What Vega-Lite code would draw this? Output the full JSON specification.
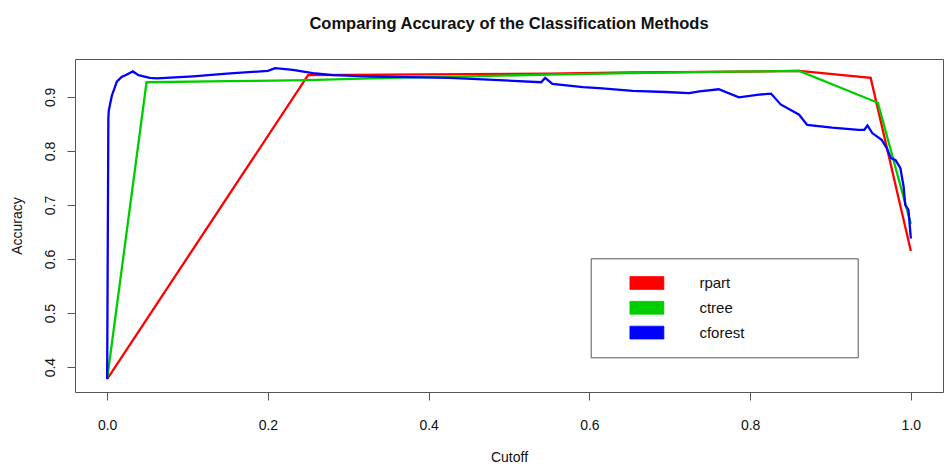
{
  "$schema": "https://vega.github.io/schema/vega-lite/v6.json",
  "width": 868,
  "height": 333,
  "autosize": {"type": "none"},
  "padding": {"left": 75, "top": 59, "right": 2, "bottom": 81},
  "background": "white",
  "title": {
    "text": "Comparing Accuracy of the Classification Methods",
    "font": "Liberation Sans",
    "fontSize": 16.5,
    "fontWeight": "bold",
    "color": "#111",
    "anchor": "middle",
    "baseline": "middle",
    "offset": 19
  },
  "config": {
    "view": {"stroke": "#555", "strokeWidth": 1},
    "font": "Liberation Sans"
  },
  "data": {
    "values": [
      {"method": "rpart", "cutoff": 0, "accuracy": 0.378},
      {"method": "rpart", "cutoff": 0.25, "accuracy": 0.94},
      {"method": "rpart", "cutoff": 0.35, "accuracy": 0.941},
      {"method": "rpart", "cutoff": 0.45, "accuracy": 0.942},
      {"method": "rpart", "cutoff": 0.55, "accuracy": 0.943},
      {"method": "rpart", "cutoff": 0.65, "accuracy": 0.945},
      {"method": "rpart", "cutoff": 0.75, "accuracy": 0.946},
      {"method": "rpart", "cutoff": 0.861, "accuracy": 0.948},
      {"method": "rpart", "cutoff": 0.95, "accuracy": 0.935},
      {"method": "rpart", "cutoff": 1.0, "accuracy": 0.615},
      {"method": "ctree", "cutoff": 0, "accuracy": 0.378},
      {"method": "ctree", "cutoff": 0.049, "accuracy": 0.927},
      {"method": "ctree", "cutoff": 0.15, "accuracy": 0.929},
      {"method": "ctree", "cutoff": 0.25, "accuracy": 0.931},
      {"method": "ctree", "cutoff": 0.35, "accuracy": 0.935},
      {"method": "ctree", "cutoff": 0.45, "accuracy": 0.938},
      {"method": "ctree", "cutoff": 0.55, "accuracy": 0.941},
      {"method": "ctree", "cutoff": 0.65, "accuracy": 0.944},
      {"method": "ctree", "cutoff": 0.75, "accuracy": 0.946},
      {"method": "ctree", "cutoff": 0.861, "accuracy": 0.948},
      {"method": "ctree", "cutoff": 0.959, "accuracy": 0.889},
      {"method": "ctree", "cutoff": 1.0, "accuracy": 0.665},
      {"method": "cforest", "cutoff": 0, "accuracy": 0.378},
      {"method": "cforest", "cutoff": 0.0015, "accuracy": 0.86},
      {"method": "cforest", "cutoff": 0.002, "accuracy": 0.874},
      {"method": "cforest", "cutoff": 0.004, "accuracy": 0.889},
      {"method": "cforest", "cutoff": 0.006, "accuracy": 0.903},
      {"method": "cforest", "cutoff": 0.009, "accuracy": 0.915},
      {"method": "cforest", "cutoff": 0.012, "accuracy": 0.928},
      {"method": "cforest", "cutoff": 0.018, "accuracy": 0.937},
      {"method": "cforest", "cutoff": 0.024, "accuracy": 0.941},
      {"method": "cforest", "cutoff": 0.032, "accuracy": 0.947},
      {"method": "cforest", "cutoff": 0.039, "accuracy": 0.94},
      {"method": "cforest", "cutoff": 0.053, "accuracy": 0.935},
      {"method": "cforest", "cutoff": 0.062, "accuracy": 0.934},
      {"method": "cforest", "cutoff": 0.107, "accuracy": 0.938},
      {"method": "cforest", "cutoff": 0.149, "accuracy": 0.943},
      {"method": "cforest", "cutoff": 0.2, "accuracy": 0.948},
      {"method": "cforest", "cutoff": 0.209, "accuracy": 0.953},
      {"method": "cforest", "cutoff": 0.231, "accuracy": 0.95},
      {"method": "cforest", "cutoff": 0.256, "accuracy": 0.944},
      {"method": "cforest", "cutoff": 0.281, "accuracy": 0.94},
      {"method": "cforest", "cutoff": 0.323, "accuracy": 0.938},
      {"method": "cforest", "cutoff": 0.426, "accuracy": 0.935},
      {"method": "cforest", "cutoff": 0.488, "accuracy": 0.931},
      {"method": "cforest", "cutoff": 0.54, "accuracy": 0.927},
      {"method": "cforest", "cutoff": 0.545, "accuracy": 0.935},
      {"method": "cforest", "cutoff": 0.554, "accuracy": 0.924},
      {"method": "cforest", "cutoff": 0.592, "accuracy": 0.918},
      {"method": "cforest", "cutoff": 0.612, "accuracy": 0.916},
      {"method": "cforest", "cutoff": 0.654, "accuracy": 0.911},
      {"method": "cforest", "cutoff": 0.695, "accuracy": 0.909},
      {"method": "cforest", "cutoff": 0.724, "accuracy": 0.907},
      {"method": "cforest", "cutoff": 0.737, "accuracy": 0.91},
      {"method": "cforest", "cutoff": 0.761, "accuracy": 0.914},
      {"method": "cforest", "cutoff": 0.786, "accuracy": 0.899},
      {"method": "cforest", "cutoff": 0.811, "accuracy": 0.904},
      {"method": "cforest", "cutoff": 0.826, "accuracy": 0.906},
      {"method": "cforest", "cutoff": 0.838, "accuracy": 0.886},
      {"method": "cforest", "cutoff": 0.861, "accuracy": 0.867},
      {"method": "cforest", "cutoff": 0.871, "accuracy": 0.848},
      {"method": "cforest", "cutoff": 0.902, "accuracy": 0.843},
      {"method": "cforest", "cutoff": 0.935, "accuracy": 0.839},
      {"method": "cforest", "cutoff": 0.942, "accuracy": 0.839},
      {"method": "cforest", "cutoff": 0.946, "accuracy": 0.847},
      {"method": "cforest", "cutoff": 0.952, "accuracy": 0.833},
      {"method": "cforest", "cutoff": 0.964, "accuracy": 0.82},
      {"method": "cforest", "cutoff": 0.97, "accuracy": 0.805},
      {"method": "cforest", "cutoff": 0.975, "accuracy": 0.787},
      {"method": "cforest", "cutoff": 0.981, "accuracy": 0.783},
      {"method": "cforest", "cutoff": 0.987, "accuracy": 0.768},
      {"method": "cforest", "cutoff": 0.991, "accuracy": 0.734},
      {"method": "cforest", "cutoff": 0.993, "accuracy": 0.7},
      {"method": "cforest", "cutoff": 0.997, "accuracy": 0.691},
      {"method": "cforest", "cutoff": 1.0, "accuracy": 0.638}
    ]
  },
  "mark": {"type": "line", "strokeWidth": 2.3, "clip": true},
  "encoding": {
    "x": {
      "field": "cutoff",
      "type": "quantitative",
      "scale": {"domain": [-0.04, 1.04], "nice": false, "zero": false},
      "axis": {
        "title": "Cutoff",
        "values": [0, 0.2, 0.4, 0.6, 0.8, 1.0],
        "format": ".1f",
        "domain": false,
        "grid": false,
        "tickSize": 8,
        "tickColor": "#555",
        "labelFont": "Liberation Sans",
        "labelFontSize": 14,
        "labelColor": "#111",
        "labelPadding": 18,
        "titleFont": "Liberation Sans",
        "titleFontSize": 14,
        "titleFontWeight": "normal",
        "titleColor": "#111",
        "titlePadding": 18
      }
    },
    "y": {
      "field": "accuracy",
      "type": "quantitative",
      "scale": {"domain": [0.354, 0.97], "nice": false, "zero": false},
      "axis": {
        "title": "Accuracy",
        "values": [0.4, 0.5, 0.6, 0.7, 0.8, 0.9],
        "format": ".1f",
        "domain": false,
        "grid": false,
        "tickSize": 8,
        "tickColor": "#555",
        "labelAngle": 270,
        "labelAlign": "center",
        "labelBaseline": "bottom",
        "labelFont": "Liberation Sans",
        "labelFontSize": 14,
        "labelColor": "#111",
        "labelPadding": 10,
        "titleFont": "Liberation Sans",
        "titleFontSize": 14,
        "titleFontWeight": "normal",
        "titleColor": "#111",
        "titlePadding": 19
      }
    },
    "color": {
      "field": "method",
      "type": "nominal",
      "sort": ["rpart", "ctree", "cforest"],
      "scale": {"domain": ["rpart", "ctree", "cforest"], "range": ["#FF0000", "#00CD00", "#0000FF"]},
      "legend": {
        "title": null,
        "orient": "none",
        "legendX": 515.7,
        "legendY": 199.3,
        "direction": "vertical",
        "padding": 16.7,
        "strokeColor": "#555",
        "fillColor": "white",
        "symbolType": "M-1,-0.38H1V0.38H-1Z",
        "symbolSize": 1156,
        "symbolOffset": 22,
        "clipHeight": 16,
        "rowPadding": 8.8,
        "labelOffset": 35,
        "labelFont": "Liberation Sans",
        "labelFontSize": 15,
        "labelColor": "#111",
        "labelLimit": 400,
        "labelExpr": "datum.label + '\u00a0\u00a0\u00a0\u00a0\u00a0\u00a0\u00a0\u00a0\u00a0\u00a0\u00a0\u00a0\u00a0\u00a0\u00a0\u00a0\u00a0\u00a0\u00a0\u00a0\u00a0\u00a0\u00a0\u200b'",
        "encode": {
          "symbols": {
            "update": {
              "fill": {"scale": "color", "field": "value"},
              "fillOpacity": {"value": 1},
              "stroke": {"value": "#333"},
              "strokeWidth": {"value": 0.7}
            }
          }
        }
      }
    }
  }
}
